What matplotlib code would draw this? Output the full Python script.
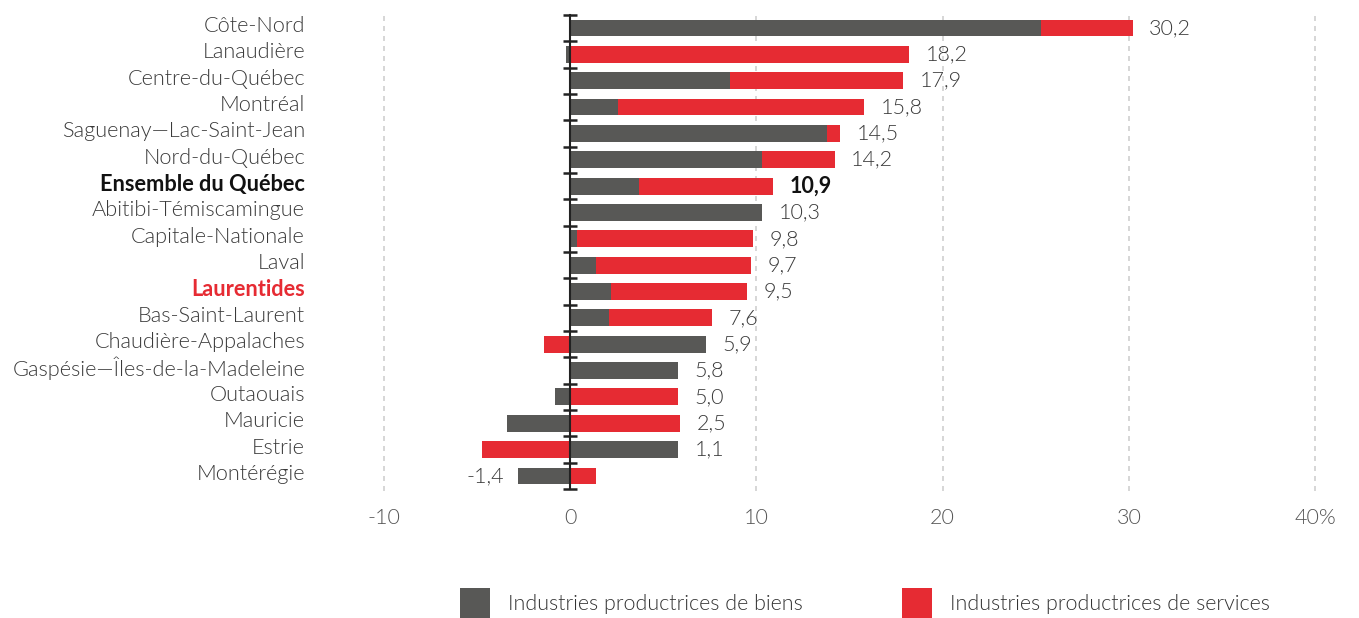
import matplotlib
matplotlib.use("Agg")
import matplotlib.pyplot as plt
from matplotlib.patches import Patch
import numpy as np

regions = ["Côte-Nord", "Lanaudière", "Centre-du-Québec", "Montréal",
           "Saguenay—Lac-Saint-Jean", "Nord-du-Québec", "Ensemble du Québec",
           "Abitibi-Témiscamingue", "Capitale-Nationale", "Laval", "Laurentides",
           "Bas-Saint-Laurent", "Chaudière-Appalaches", "Gaspésie—Îles-de-la-Madeleine",
           "Outaouais", "Mauricie", "Estrie", "Montérégie"]
goods = [25.3, -0.2, 8.6, 2.6, 13.8, 10.3, 3.7, 10.3, 0.4, 1.4, 2.2, 2.1, 7.3, 5.8, -0.8, -3.4, 5.8, -2.8]
services = [4.9, 18.2, 9.3, 13.2, 0.7, 3.9, 7.2, 0.0, 9.4, 8.3, 7.3, 5.5, -1.4, 0.0, 5.8, 5.9, -4.7, 1.4]
totals = [30.2, 18.2, 17.9, 15.8, 14.5, 14.2, 10.9, 10.3, 9.8, 9.7, 9.5, 7.6, 5.9, 5.8, 5.0, 2.5, 1.1, -1.4]
xticks = [-10, 0, 10, 20, 30, 40]
xtick_labels = ["-10", "0", "10", "20", "30", "40%"]
legend_labels = ["Industries productrices de biens", "Industries productrices de services"]

GRAY = "#585856"
RED = "#e62b33"
TXT = "#3a3a3a"
FONT = "Lato"

plt.rcParams['font.family'] = [FONT, 'DejaVu Sans']

fig = plt.figure(figsize=(13.59, 6.18), dpi=100)
ax = fig.add_axes([345/1359, 1 - 491/618, 995/1359, 480/618])

n = len(regions)
y = np.arange(n)
g = np.array(goods)
s = np.array(services)

# diverging stacking
g_left = np.zeros(n)
pos_end = np.where(g > 0, g, 0.0)
neg_end = np.where(g < 0, g, 0.0)
s_left = np.where(s >= 0, pos_end, neg_end)

h = 0.64
ax.barh(y, g, left=g_left, height=h, color=GRAY, zorder=3)
ax.barh(y, s, left=s_left, height=h, color=RED, zorder=3)

pos_max = np.maximum(pos_end + np.where(s > 0, s, 0), 0)
neg_min = np.minimum(neg_end + np.where(s < 0, s, 0), 0)

x0, x1 = (345 - 570) / 18.63, (1340 - 570) / 18.63
ax.set_xlim(x0, x1)
ax.set_ylim((490 - 27) / 26.35, (10 - 27) / 26.35)

for i, t in enumerate(totals):
    lab = f"{t:.1f}".replace(".", ",")
    bold = regions[i] == "Ensemble du Québec"
    kw = dict(fontsize=15.5, va="center", color="#111111" if bold else TXT,
              fontweight="bold" if bold else 300)
    if t >= 0:
        ax.annotate(lab, (pos_max[i], i), xytext=(12, 0), textcoords="offset points", ha="left", **kw)
    else:
        ax.annotate(lab, (neg_min[i], i), xytext=(-10, 0), textcoords="offset points", ha="right", **kw)

# gridlines
for xt in xticks:
    if xt != 0:
        ax.axvline(xt, color="#d0d0d0", lw=1.2, ls=(0, (3, 3)), zorder=1)

# zero axis with row-boundary ticks
ax.plot([0, 0], [-0.5, n - 0.5], color="#222222", lw=1.5, zorder=4)
for b in np.arange(-0.5, n, 1.0):
    ax.plot([-0.35, 0.35], [b, b], color="#222222", lw=1.8, zorder=4, solid_capstyle="butt")

ax.set_xticks(xticks)
ax.set_xticklabels(xtick_labels, fontsize=15.5, color="#555555", fontweight=300)
ax.tick_params(axis="x", length=0, pad=12)
ax.set_yticks([])
for sp in ax.spines.values():
    sp.set_visible(False)

# category labels
for i, r in enumerate(regions):
    color = TXT
    weight = 300
    if r == "Ensemble du Québec":
        color, weight = "#111111", "bold"
    elif r == "Laurentides":
        color, weight = RED, "bold"
    fig.text(305 / 1359, 1 - (26 + i * 26.35) / 618, r, ha="right", va="center",
             fontsize=15.7, color=color, fontweight=weight)

handles = [Patch(facecolor=GRAY), Patch(facecolor=RED)]
leg = fig.legend(handles, legend_labels, loc="center left",
                 bbox_to_anchor=(460 / 1359, 1 - 603 / 618), ncol=2, frameon=False,
                 fontsize=15.5, handlelength=1.39, handleheight=1.8, handletextpad=0.84,
                 columnspacing=4.6, borderaxespad=0, borderpad=0)
for t in leg.get_texts():
    t.set_color("#333333")
    t.set_fontweight(300)

fig.savefig("out.png", dpi=100)
